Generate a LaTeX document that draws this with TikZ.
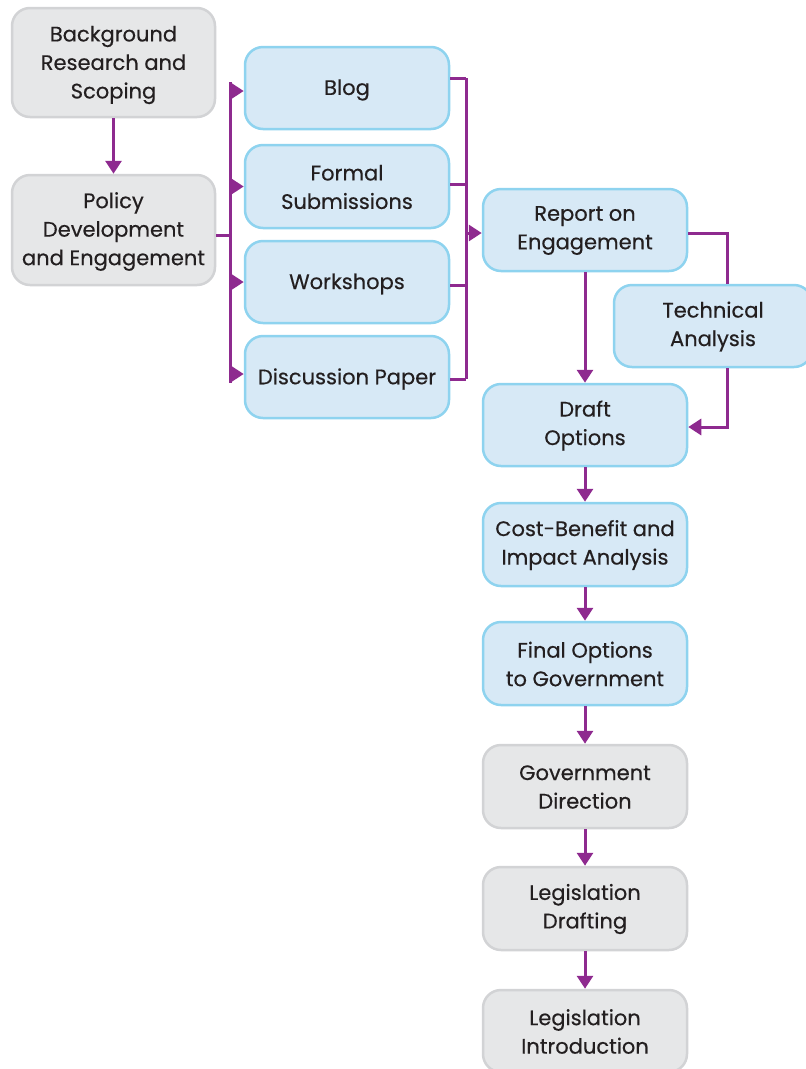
\documentclass[tikz,border=0pt]{standalone}
\usepackage{fontspec}
\setmainfont{Poppins}[FakeBold=0.4]
\usetikzlibrary{arrows.meta}
\definecolor{pur}{HTML}{8E2A8F}
\definecolor{bfill}{HTML}{D7E9F6}
\definecolor{bline}{HTML}{8ED3EF}
\definecolor{gfill}{HTML}{E6E7E8}
\definecolor{gline}{HTML}{D2D3D5}
\definecolor{txt}{HTML}{231F20}
\begin{document}
\begin{tikzpicture}[x=1pt,y=-1pt,
 box/.style={rounded corners=18pt, line width=2.5pt, inner sep=0pt, minimum width=204pt, minimum height=82pt},
 bluebox/.style={box, draw=bline, fill=bfill},
 graybox/.style={box, draw=gline, fill=gfill},
 lbl/.style={text=txt, align=center, font=\fontsize{21}{28.5}\selectfont, inner sep=0pt, yshift=-0.5pt},
 conn/.style={draw=pur, line width=3pt},
 arr/.style={conn, -{Triangle[length=13pt,width=16pt]}}]
\useasboundingbox (0,0) rectangle (806,1069);
\clip (0,0) rectangle (806,1069);
\node[graybox, minimum width=203pt, minimum height=109pt] (bg) at (113.5,62.5) {};
\node[graybox, minimum width=203pt, minimum height=110pt] (pol) at (113.5,230) {};
\node[bluebox] (blog) at (347,88) {};
\node[bluebox, minimum height=83pt] (formal) at (347,186.5) {};
\node[bluebox] (work) at (347,282) {};
\node[bluebox] (disc) at (347,377) {};
\node[bluebox] (report) at (585,230) {};
\node[bluebox, minimum width=198pt] (tech) at (713,326) {};
\node[bluebox] (draft) at (585,425) {};
\node[bluebox, minimum height=83pt] (cba) at (585,544.5) {};
\node[bluebox, minimum height=83pt] (final) at (585,663.5) {};
\node[graybox, minimum height=83pt] (gov) at (585,786.5) {};
\node[graybox, minimum height=83pt] (legd) at (585,908.5) {};
\node[graybox] (legi) at (585,1031) {};
% labels
\node[lbl, yshift=-2pt] (bgt) at (bg) {Background\\Research and\\Scoping};
\node[lbl, yshift=-1pt] (polt) at (pol) {Policy\\Development\\and Engagement};
\node[lbl, yshift=-1.5pt] (blogt) at (blog) {Blog};
\node[lbl] (formalt) at (formal) {Formal\\Submissions};
\node[lbl, yshift=-1.5pt] (workt) at (work) {Workshops};
\node[lbl, yshift=-1.5pt] (disct) at (disc) {Discussion Paper};
\node[lbl] (reportt) at (report) {Report on\\Engagement};
\node[lbl] (techt) at (tech) {Technical\\Analysis};
\node[lbl] (draftt) at (draft) {Draft\\Options};
\node[lbl] (cbat) at (cba) {Cost-Benefit and\\Impact Analysis};
\node[lbl] (finalt) at (final) {Final Options\\to Government};
\node[lbl] (govt) at (gov) {Government\\Direction};
\node[lbl] (legdt) at (legd) {Legislation\\Drafting};
\node[lbl] (legit) at (legi) {Legislation\\Introduction};
% bus points
\coordinate (lt) at (230,82);
\coordinate (lb) at (230,383);
\coordinate (rt) at (466,78);
\coordinate (rb) at (466,379);
\coordinate (tx) at (727,0);
\draw[arr] (bg) -- (pol);
% left bus
\draw[conn] (lt) -- (lb);
\draw[conn] ([yshift=-5pt]pol.east) -- ([yshift=-5pt]pol.east -| lt);
\draw[arr] ([yshift=-3pt]blog.west -| lt) -- ([yshift=-3pt]blog.west);
\draw[arr] (formal.west -| lt) -- (formal.west);
\draw[arr] (work.west -| lt) -- (work.west);
\draw[arr] ([yshift=3pt]disc.west -| lt) -- ([yshift=3pt]disc.west);
% right bus
\draw[conn] (rt) -- (rb);
\draw[conn] ([yshift=10pt]blog.east) -- ([yshift=10pt]blog.east -| rt);
\draw[conn] ([yshift=2.5pt]formal.east) -- ([yshift=2.5pt]formal.east -| rt);
\draw[conn] ([yshift=-3pt]work.east) -- ([yshift=-3pt]work.east -| rt);
\draw[conn] ([yshift=-2pt]disc.east) -- ([yshift=-2pt]disc.east -| rt);
\draw[arr] ([yshift=-3pt]report.west -| rt) -- ([yshift=-3pt]report.west);
% right column
\draw[arr] (report) -- (draft);
\draw[conn] ([yshift=-3pt]report.east) -| (tech.north -| tx);
\draw[arr] (tech.south -| tx) |- ([yshift=-2pt]draft.east);
\draw[arr] (draft) -- (cba);
\draw[arr] (cba) -- (final);
\draw[arr] (final) -- (gov);
\draw[arr] (gov) -- (legd);
\draw[arr] (legd) -- (legi);
\end{tikzpicture}
\end{document}
